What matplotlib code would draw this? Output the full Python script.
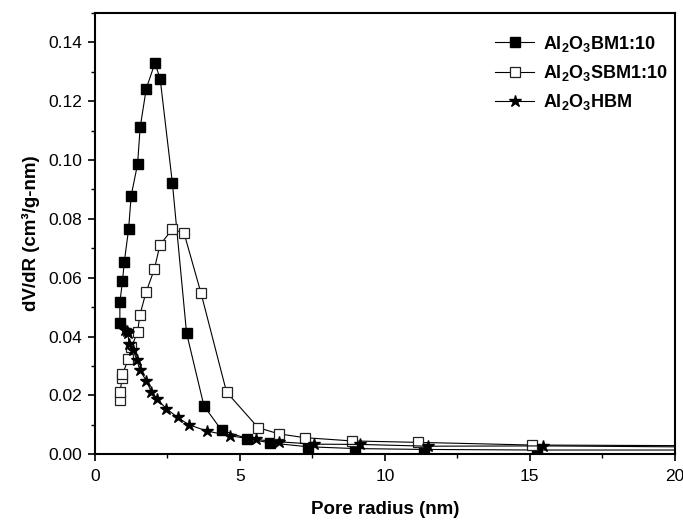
import numpy as np
import matplotlib
matplotlib.use("Agg")
from matplotlib import pyplot as plt
from matplotlib.ticker import MultipleLocator

plt.rcParams['font.family'] = ['Liberation Sans', 'DejaVu Sans']
plt.rcParams['mathtext.fontset'] = 'custom'
plt.rcParams['mathtext.bf'] = 'Liberation Sans:bold'
plt.rcParams['mathtext.rm'] = 'Liberation Sans'

# filled squares: Al2O3 BM 1:10
bm_x = [0.86, 0.86, 0.95, 1.01, 1.16, 1.25, 1.47, 1.56, 1.77, 2.07, 2.25, 2.67, 3.16, 3.76, 4.37,
        5.25, 6.05, 7.36, 8.97, 11.34, 15.23, 30.0]
bm_y = [0.0445, 0.0516, 0.0588, 0.0652, 0.0764, 0.0879, 0.0986, 0.1111, 0.1243, 0.1330, 0.1276,
        0.0923, 0.0412, 0.0164, 0.0081, 0.0053, 0.0038, 0.0025, 0.0019, 0.0016, 0.0014, 0.0014]

# open squares: Al2O3 SBM 1:10
sbm_x = [0.86, 0.86, 0.95, 0.95, 1.15, 1.26, 1.47, 1.55, 1.76, 2.05, 2.24, 2.66, 3.07, 3.66, 4.54,
         5.63, 6.34, 7.24, 8.85, 11.15, 15.06, 30.0]
sbm_y = [0.0183, 0.0213, 0.0260, 0.0271, 0.0323, 0.0365, 0.0415, 0.0473, 0.0550, 0.0629, 0.0711,
         0.0764, 0.0753, 0.0547, 0.0211, 0.0090, 0.0069, 0.0056, 0.0045, 0.0040, 0.0031, 0.0025]

# stars: Al2O3 HBM
hbm_x = [1.03, 1.09, 1.13, 1.18, 1.32, 1.45, 1.55, 1.77, 1.94, 2.15, 2.46, 2.85, 3.24, 3.85, 4.66,
         5.54, 6.34, 7.56, 9.14, 11.49, 15.46, 30.0]
hbm_y = [0.0423, 0.0420, 0.0413, 0.0375, 0.0353, 0.0320, 0.0285, 0.0250, 0.0213, 0.0186, 0.0155,
         0.0125, 0.0100, 0.0079, 0.0062, 0.0050, 0.0042, 0.0034, 0.0033, 0.0027, 0.0028, 0.0018]

fig = plt.figure(figsize=(6.83, 5.22), dpi=100)
ax = fig.add_axes([0.139, 0.130, 0.849, 0.845])

ax.plot(bm_x, bm_y, '-', color='black', lw=0.8, marker='s', ms=6.5,
        mfc='black', mec='black', label=r'$\mathbf{Al_2O_3}$BM1:10')
ax.plot(sbm_x, sbm_y, '-', color='black', lw=0.8, marker='s', ms=6.5,
        mfc='white', mec='#222222', mew=0.9, label=r'$\mathbf{Al_2O_3}$SBM1:10')
ax.plot(hbm_x, hbm_y, '-', color='black', lw=0.8, marker='*', ms=9,
        mfc='black', mec='black', label=r'$\mathbf{Al_2O_3}$HBM')

ax.set_xlim(0, 20)
ax.set_ylim(0, 0.15)
ax.xaxis.set_major_locator(MultipleLocator(5))
ax.xaxis.set_minor_locator(MultipleLocator(2.5))
ax.yaxis.set_minor_locator(MultipleLocator(0.01))
yt = np.arange(0, 0.141, 0.02)
ax.set_yticks(yt)
ax.set_yticklabels([f"{v:.2f}" for v in yt])
ax.tick_params(which='major', direction='out', length=5, width=1.2, labelsize=12.5, pad=4)
ax.tick_params(axis='x', which='major', pad=6)
ax.tick_params(which='minor', direction='out', length=3, width=1.0)
for s in ax.spines.values():
    s.set_linewidth(1.5)

ax.set_xlabel('Pore radius (nm)', fontsize=13.5, fontweight='bold', labelpad=12)
ax.set_ylabel('dV/dR (cm³/g-nm)', fontsize=13.5, fontweight='bold', labelpad=6)

leg = ax.legend(loc='upper right', bbox_to_anchor=(1.001, 0.970), frameon=False,
                fontsize=13, handlelength=2.2, handletextpad=0.5, labelspacing=0.52,
                borderaxespad=0.0)
for t in leg.get_texts():
    t.set_fontweight('bold')

fig.savefig('out.png', dpi=100)
